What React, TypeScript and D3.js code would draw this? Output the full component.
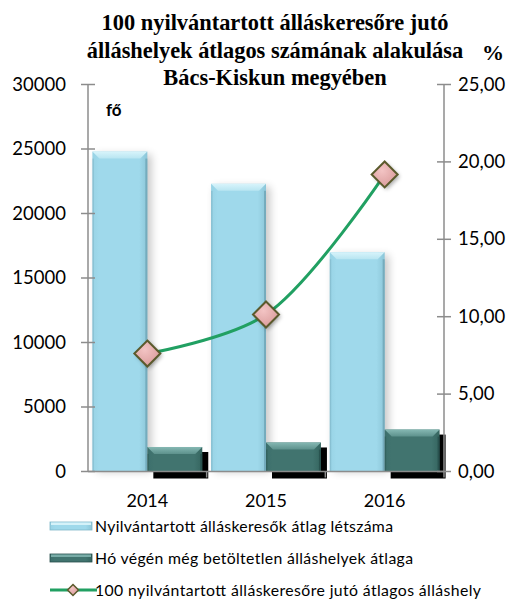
import React, { useEffect } from "react";
import * as d3 from "d3";

const years = ["2014", "2015", "2016"];
const jobseekers = [24800, 22300, 17000];
const vacancies = [1900, 2250, 3250];
const ratio = [7.62, 10.14, 19.19];
const leftTicks = [0, 5000, 10000, 15000, 20000, 25000, 30000];
const rightTicks = [0, 5, 10, 15, 20, 25];
const titleLines = [
  "100 nyilvántartott álláskeresőre jutó",
  "álláshelyek átlagos számának alakulása",
  "Bács-Kiskun megyében",
];
const legendLabels = [
  "Nyilvántartott álláskeresők átlag létszáma",
  "Hó végén még betöltetlen álláshelyek átlaga",
  "100 nyilvántartott álláskeresőre jutó átlagos álláshely",
];
// measured widths of the legend texts in the picture
const legendWidths = [298, 318, 386];

const W = 519;
const H = 606;
const plot = { left: 88, right: 444, top: 84.5, bottom: 471.5 };
const axisColor = "#8c8c8c";
const lineColor = "#21a062";
const sans = "Lato, 'Open Sans', sans-serif";
const serif = "'Liberation Serif', 'DejaVu Serif', serif";

const App = () => {
  useEffect(() => {
    document.body.style.margin = "0";
  }, []);

  const x = d3.scaleBand().domain(years).range([plot.left, plot.right]);
  const x1 = d3
    .scaleBand()
    .domain(["a", "b"])
    .range([0, x.bandwidth()])
    .paddingOuter(0.08);
  const yL = d3.scaleLinear().domain([0, 30000]).range([plot.bottom, plot.top]);
  const yR = d3.scaleLinear().domain([0, 25]).range([plot.bottom, plot.top]);

  const pts: [number, number][] = years.map((yr, i) => [
    x(yr)! + x.bandwidth() / 2,
    yR(ratio[i]),
  ]);
  const line = d3.line().curve(d3.curveCatmullRom.alpha(0.5))(pts) || "";

  // top bevel + thin edge strips, like the office "bevel" bar effect
  const bevel = (bx: number, by: number, bw: number, bh: number, light: string, edge: string) => {
    const b = Math.min(7, bh / 2);
    return (
      <g>
        <polygon
          points={`${bx},${by} ${bx + bw},${by} ${bx + bw - b},${by + b} ${bx + b},${by + b}`}
          fill={light}
        />
        <rect x={bx + bw - 2} y={by + b} width={2} height={bh - b} fill={edge} opacity={0.7} />
        <rect x={bx} y={by + b} width={1.5} height={bh - b} fill={edge} opacity={0.35} />
      </g>
    );
  };

  const diamond = (cx: number, cy: number, r: number, sw: number) => (
    <path
      d={`M${cx},${cy - r}L${cx + r},${cy}L${cx},${cy + r}L${cx - r},${cy}Z`}
      fill="url(#pinkGrad)"
      stroke="#5b5a2c"
      strokeWidth={sw}
    />
  );

  const bw = x1.bandwidth();

  return (
    <svg width={W} height={H} style={{ display: "block", background: "#fff" }}>
      <defs>
        <linearGradient id="blueGrad" x1="0" x2="1" y1="0" y2="0">
          <stop offset="0" stopColor="#98d3e5" />
          <stop offset="0.12" stopColor="#9fd9eb" />
          <stop offset="0.85" stopColor="#9fd9eb" />
          <stop offset="1" stopColor="#8cc6d8" />
        </linearGradient>
        <linearGradient id="tealGrad" x1="0" x2="1" y1="0" y2="0">
          <stop offset="0" stopColor="#3c6f6c" />
          <stop offset="0.12" stopColor="#41746f" />
          <stop offset="0.85" stopColor="#41746f" />
          <stop offset="1" stopColor="#35655f" />
        </linearGradient>
        <linearGradient id="blueTop" x1="0" x2="0" y1="0" y2="1">
          <stop offset="0" stopColor="#d8f4fb" />
          <stop offset="1" stopColor="#b8e5f1" />
        </linearGradient>
        <linearGradient id="tealTop" x1="0" x2="0" y1="0" y2="1">
          <stop offset="0" stopColor="#85b8b3" />
          <stop offset="1" stopColor="#5d918c" />
        </linearGradient>
        <radialGradient id="pinkGrad" cx="0.4" cy="0.35" r="0.7">
          <stop offset="0" stopColor="#f3c4c4" />
          <stop offset="1" stopColor="#d99a9a" />
        </radialGradient>
        <filter id="soft" x="-20%" y="-10%" width="150%" height="120%">
          <feGaussianBlur stdDeviation="4" />
        </filter>
        <filter id="softSmall" x="-50%" y="-50%" width="200%" height="200%">
          <feGaussianBlur stdDeviation="2" />
        </filter>
      </defs>

      {/* title */}
      {titleLines.map((t, i) => (
        <text
          key={t}
          x={275}
          y={30 + i * 27.5}
          textAnchor="middle"
          fontFamily={serif}
          fontWeight="bold"
          fontSize={22.4}
          fill="#000"
        >
          {t}
        </text>
      ))}
      <text x={482} y={60} fontFamily={serif} fontWeight="bold" fontSize={22}>
        %
      </text>
      <text x={106} y={116} fontFamily={sans} fontWeight="bold" fontSize={17}>
        fő
      </text>

      {/* bars */}
      {years.map((yr, i) => {
        const bx = x(yr)! + x1("a")!;
        const by = yL(jobseekers[i]);
        const bh = plot.bottom - by;
        return (
          <g key={"b" + yr}>
            <rect x={bx + 4} y={by + 3} width={bw} height={bh - 3} fill="#000" opacity={0.22} filter="url(#soft)" />
            <rect x={bx} y={by} width={bw} height={bh} fill="url(#blueGrad)" />
            {bevel(bx, by, bw, bh, "url(#blueTop)", "#6a9fb0")}
          </g>
        );
      })}
      {years.map((yr, i) => {
        const bx = x(yr)! + x1("b")!;
        const by = yL(vacancies[i]);
        const bh = plot.bottom - by;
        return (
          <g key={"v" + yr}>
            <rect x={bx + 6} y={by + 5} width={bw} height={bh + 2} fill="#000" />
            <rect x={bx} y={by} width={bw} height={bh} fill="url(#tealGrad)" />
            {bevel(bx, by, bw, bh, "url(#tealTop)", "#234a47")}
          </g>
        );
      })}

      {/* axes */}
      <line x1={plot.left} x2={plot.right} y1={plot.bottom} y2={plot.bottom} stroke={axisColor} strokeWidth={1.5} />
      {x.domain().map((yr) => (
        <line
          key={"xt" + yr}
          x1={x(yr)! + x.bandwidth()}
          x2={x(yr)! + x.bandwidth()}
          y1={plot.bottom}
          y2={plot.bottom + 6}
          stroke={axisColor}
          strokeWidth={1.5}
        />
      ))}
      {x.domain().map((yr) => (
        <text
          key={"xl" + yr}
          x={x(yr)! + x.bandwidth() / 2}
          y={507}
          textAnchor="middle"
          fontFamily={sans}
          fontSize={18}
        >
          {yr}
        </text>
      ))}

      <line x1={plot.left} x2={plot.left} y1={plot.top} y2={plot.bottom} stroke={axisColor} strokeWidth={1.5} />
      {leftTicks.map((t) => (
        <g key={"yl" + t}>
          <line x1={plot.left - 7} x2={plot.left + 7} y1={yL(t)} y2={yL(t)} stroke={axisColor} strokeWidth={1.5} />
          <text x={66} y={yL(t) + 6} textAnchor="end" fontFamily={sans} fontSize={18.5}>
            {t}
          </text>
        </g>
      ))}

      <line x1={plot.right} x2={plot.right} y1={plot.top} y2={plot.bottom} stroke={axisColor} strokeWidth={1.5} />
      {rightTicks.map((t) => (
        <g key={"yr" + t}>
          <line x1={plot.right - 7} x2={plot.right + 7} y1={yR(t)} y2={yR(t)} stroke={axisColor} strokeWidth={1.5} />
          <text x={458} y={yR(t) + 6} fontFamily={sans} fontSize={18.5}>
            {d3.format(".2f")(t).replace(".", ",")}
          </text>
        </g>
      ))}

      {/* line series */}
      <path d={line} fill="none" stroke={lineColor} strokeWidth={3} />
      {pts.map(([cx, cy], i) => (
        <g key={"m" + i}>
          <path
            d={`M${cx + 2},${cy - 11}L${cx + 15},${cy + 2}L${cx + 2},${cy + 15}L${cx - 11},${cy + 2}Z`}
            fill="#000"
            opacity={0.35}
            filter="url(#softSmall)"
          />
          {diamond(cx, cy, 13, 2)}
        </g>
      ))}

      {/* legend */}
      {legendLabels.map((lab, i) => {
        const cy = 526 + i * 32;
        return (
          <g key={"lg" + i}>
            {i === 0 && (
              <g>
                <rect x={50} y={cy - 4} width={42} height={8} fill="url(#blueGrad)" stroke="#7fb7c8" strokeWidth={0.8} />
                <rect x={51} y={cy - 3.5} width={40} height={2.5} fill="#d5f2f9" />
              </g>
            )}
            {i === 1 && (
              <g>
                <rect x={50} y={cy - 4} width={42} height={8} fill="url(#tealGrad)" stroke="#264e4c" strokeWidth={0.8} />
                <rect x={51} y={cy - 3.5} width={40} height={2.5} fill="#78aca7" />
              </g>
            )}
            {i === 2 && (
              <g>
                <line x1={50} x2={97} y1={cy} y2={cy} stroke={lineColor} strokeWidth={3} />
                {diamond(73, cy, 5.5, 1.5)}
              </g>
            )}
            <text
              x={95}
              y={cy + 6}
              fontFamily={sans}
              fontSize={15.8}
              textLength={legendWidths[i]}
              lengthAdjust="spacing"
            >
              {lab}
            </text>
          </g>
        );
      })}
    </svg>
  );
};

export default App;
